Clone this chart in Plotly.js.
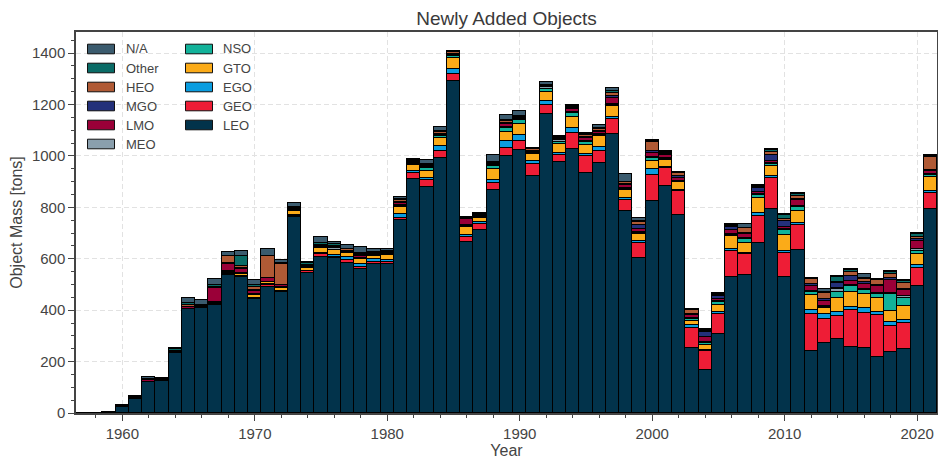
<!DOCTYPE html>
<html>
<head>
<meta charset="utf-8">
<script src="https://cdn.plot.ly/plotly-3.0.1.min.js"></script>
<style>
html,body{margin:0;padding:0;background:#fff;}
#chart{width:938px;height:459px;}
</style>
</head>
<body>
<div id="chart"></div>
<script>
// ---------------- DATA ----------------
const years = [];
for (let y = 1957; y <= 2021; y++) years.push(y);

const categories = ["LEO","GEO","EGO","GTO","NSO","MEO","LMO","MGO","HEO","Other","N/A"];

// values in tons, one per year 1957..2021
const LEO = [0.5,1.5,2,25,56,122,125,232,406,407,
  420,537,530,443,491,469,764,543,608,601,
  585,560,578,579,751,910,880,990,1291,664,
  712,866,999,1023,923,1165,975,1025,932,974,
  1084,787,603,824,884,770,254,167,306,530,
  537,660,792,528,634,242,271,288,258,254,
  219,239,248,495,792];
const GEO = [0,0,0,0,0,0,0,0,0,0,
  3,3,4,3,5,3,3,8,9,7,
  12,8,9,10,9,22,28,30,29,19,
  22,30,30,34,45,34,27,65,69,47,
  58,43,57,101,68,94,77,73,80,101,
  82,108,121,95,99,142,95,91,143,135,
  163,100,102,70,64];
const EGO = [0,0,0,0,0,0,0,0,0,0,
  0,3,0,2,4,3,3,2,4,5,
  8,10,12,6,14,9,8,17,18,8,
  10,11,30,25,12,15,9,18,5,15,
  11,7,10,24,4,4,10,4,8,5,
  5,10,10,8,6,18,18,12,12,20,
  10,15,10,11,7];
const GTO = [0,0,0,0,0,0,0,0,0,0,
  6,5,5,10,8,13,16,10,19,22,
  18,20,12,18,29,23,26,31,42,33,
  14,44,34,43,26,35,35,43,35,42,
  40,30,26,32,27,29,18,21,26,51,
  37,58,37,63,47,57,24,58,59,52,
  57,41,57,42,56];
const NSO = [0,0,0,0,0,0,0,0,0,0,
  0,3,0,0,0,0,0,0,2,0,
  0,3,0,3,4,4,10,9,10,3,
  3,9,17,16,4,13,10,17,14,3,
  5,5,4,10,5,4,5,9,12,6,
  14,13,8,17,16,10,4,21,21,19,
  14,67,29,12,5];
const MEO = [0,0,0,0,0,0,0,0,0,0,
  4,3,5,5,3,4,4,3,3,5,
  4,3,5,4,4,3,5,3,4,3,
  3,4,2,3,5,6,4,3,3,3,
  4,5,3,4,3,3,6,4,4,4,
  4,4,4,4,4,4,3,13,4,3,
  4,6,10,6,4];
const LMO = [0,0,0,2,4,5,4,6,8,5,
  55,26,16,11,13,5,5,4,3,6,
  4,6,4,0,5,3,3,4,4,26,
  4,4,11,3,6,2,5,10,10,8,
  22,8,13,17,13,10,10,19,9,13,
  19,8,9,10,21,21,20,3,17,18,
  26,50,21,35,14];
const MGO = [0,0,0,0,0,0,0,0,0,0,
  0,4,4,5,0,0,0,0,0,0,
  0,3,0,3,5,3,4,3,0,0,
  0,0,5,0,0,0,0,4,6,5,
  10,6,15,8,4,8,6,19,10,13,
  4,13,23,21,6,9,8,19,19,8,
  6,8,6,4,3];
const HEO = [0,0,0,0,0,0,0,4,7,5,
  4,25,9,12,88,84,4,6,6,5,
  6,6,4,5,6,3,3,5,5,0,
  3,5,6,4,4,2,4,6,6,6,
  12,6,13,36,4,13,13,3,5,5,
  16,5,13,8,13,18,25,3,17,12,
  17,16,21,10,50];
const Other = [0,0,0,0,3,5,4,6,7,5,
  5,0,39,5,0,3,4,6,6,5,
  0,5,4,4,6,3,3,4,4,3,
  3,4,4,3,3,2,4,5,5,5,
  5,3,3,3,3,4,3,3,4,4,
  0,4,5,15,5,3,4,22,5,4,
  3,6,9,11,6];
const NA = [0,0,0,3,4,8,3,4,20,19,
  25,17,20,22,26,10,13,6,23,10,
  16,23,8,4,9,4,14,17,2,3,
  3,27,22,22,4,13,4,4,5,13,
  12,30,10,3,3,0,3,3,4,4,
  16,4,4,4,4,3,9,4,4,16,
  3,4,4,3,4];

const seriesValues = [LEO, GEO, EGO, GTO, NSO, MEO, LMO, MGO, HEO, Other, NA];
const colors = ["#02334b","#ee1d36","#0a9de0","#fbab18","#12b29a","#8a9fad",
                "#9a0038","#23307a","#b05a35","#0a6b66","#3b5b6e"];

const legendCol1 = ["N/A","Other","HEO","MGO","LMO","MEO"];
const legendCol2 = ["NSO","GTO","EGO","GEO","LEO"];

// ---------------- TRACES ----------------
const traces = categories.map((name, i) => ({
  type: "bar",
  name: name,
  x: years,
  y: seriesValues[i],
  width: 1,
  marker: {color: colors[i], line: {color: "#000", width: 1.2}},
  showlegend: false,
  hovertemplate: name + " %{x}: %{y}<extra></extra>"
}));

// ---------------- LAYOUT ----------------
const W = 938, H = 459;
const M = {l: 76, r: 1, t: 32, b: 46};
const pw = W - M.l - M.r, ph = H - M.t - M.b;
const px2x = px => (px - M.l) / pw;
const py2y = py => (H - M.b - py) / ph;

const shapes = [], annotations = [];
function addLegend(list, patchLeft, textLeft) {
  list.forEach((name, r) => {
    const cy = 49 + r * 19;
    const ci = categories.indexOf(name);
    shapes.push({type: "rect", xref: "paper", yref: "paper",
      x0: px2x(patchLeft), x1: px2x(patchLeft + 27),
      y0: py2y(cy + 4.8), y1: py2y(cy - 4.8),
      fillcolor: colors[ci], line: {color: "#111", width: 1}, layer: "above"});
    annotations.push({xref: "paper", yref: "paper", x: px2x(textLeft), y: py2y(cy),
      xanchor: "left", yanchor: "middle", showarrow: false, text: name,
      font: {size: 13, color: "#444"}});
  });
}
addLegend(legendCol1, 87.5, 124);
addLegend(legendCol2, 185.5, 221);

const font = {family: "Liberation Sans, Arial, Helvetica, sans-serif", color: "#444"};

const layout = {
  width: W, height: H,
  margin: M,
  paper_bgcolor: "#fff", plot_bgcolor: "#fff",
  font: font,
  barmode: "stack", bargap: 0,
  title: {text: "Newly Added Objects", x: 0.5, xref: "paper", xanchor: "center",
          y: 1 - 18 / H, yref: "container", yanchor: "middle",
          font: {size: 19, color: "#3a3a3a"}},
  xaxis: {
    range: [1956.5, 2021.5], tick0: 1960, dtick: 10,
    ticks: "outside", ticklen: 6, tickwidth: 1.2, tickcolor: "#444",
    tickfont: {size: 15, color: "#444"},
    showline: true, mirror: true, linecolor: "#444", linewidth: 1.5,
    showgrid: true, gridcolor: "#e2e2e2", griddash: "5px,3px", gridwidth: 1,
    zeroline: false,
    minor: {dtick: 2, tick0: 1960, ticks: "outside", ticklen: 3.5, tickwidth: 1, tickcolor: "#444", showgrid: false},
    title: {text: "Year", font: {size: 16, color: "#444"}, standoff: 3}
  },
  yaxis: {
    range: [0, 1482], dtick: 200,
    ticks: "outside", ticklen: 6, tickwidth: 1.2, tickcolor: "#444",
    tickfont: {size: 15, color: "#444"},
    showline: true, mirror: true, linecolor: "#444", linewidth: 1.5,
    showgrid: true, gridcolor: "#e2e2e2", griddash: "5px,3px", gridwidth: 1,
    zeroline: false,
    minor: {dtick: 50, ticks: "outside", ticklen: 3.5, tickwidth: 1, tickcolor: "#444", showgrid: false},
    title: {text: "Object Mass [tons]", font: {size: 16, color: "#444"}, standoff: 5}
  },
  shapes: shapes,
  annotations: annotations
};

Plotly.newPlot("chart", traces, layout, {displayModeBar: false, responsive: false});
</script>
</body>
</html>
